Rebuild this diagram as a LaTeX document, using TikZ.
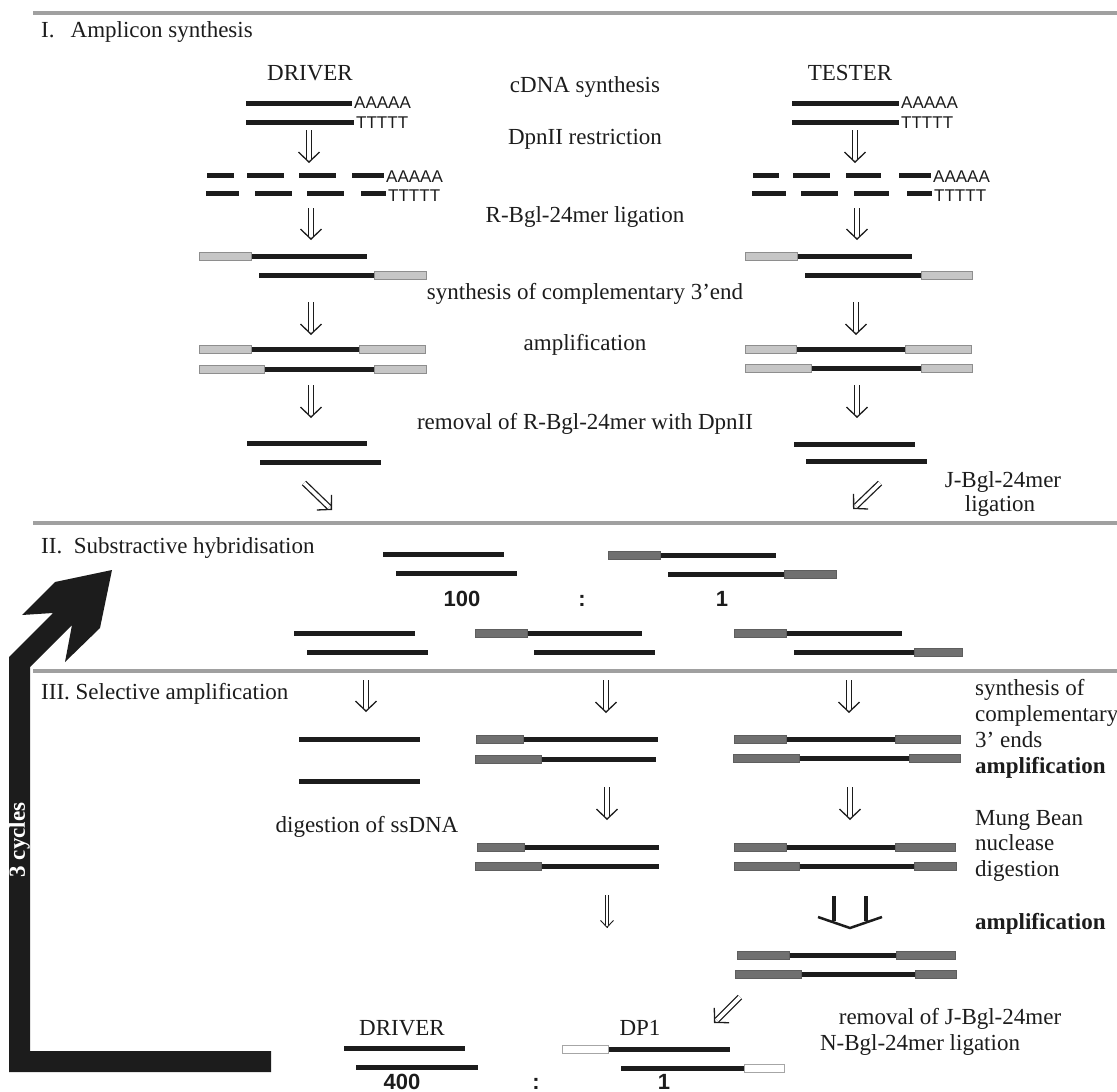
\documentclass[tikz,border=0pt]{standalone}
\usepackage{fontspec}
\setmainfont{Liberation Serif}
\newfontfamily\arialfont{Liberation Sans}
\usetikzlibrary{arrows.meta,calc}
\definecolor{ink}{HTML}{1C1C1C}
\definecolor{sepgray}{HTML}{A0A0A0}
\definecolor{lightad}{HTML}{C6C6C6}
\definecolor{lightadline}{HTML}{8E8E8E}
\definecolor{darkad}{HTML}{707070}
\definecolor{darkadline}{HTML}{5E5E5E}
\newcommand\dnaseg[3]{\draw[dna] (#2,#1) -- (#3,#1);}
\newcommand\ladapt[3]{\draw[lad] (#2,#1-4) rectangle (#3,#1+4);}
\newcommand\dadapt[3]{\draw[dad] (#2,#1-4) rectangle (#3,#1+4);}
\newcommand\wadapt[3]{\draw[wad] (#2,#1-4) rectangle (#3,#1+4);}
% double arrow from #2 to #3 with style family #1
\newcommand\dblarrow[3][darr]{\draw[#1] (#2) -- (#3); \draw[#1head] ($(#2)!0.97!(#3)$) -- (#3);}
\begin{document}
\begin{tikzpicture}[x=1pt,y=-1pt,
  sep/.style={draw=sepgray,line width=4pt},
  dna/.style={draw=ink,line width=5pt},
  lad/.style={fill=lightad,draw=lightadline,line width=0.8pt},
  dad/.style={fill=darkad,draw=darkadline,line width=0.8pt},
  wad/.style={fill=white,draw=gray!70,line width=0.8pt},
  lbl/.style={font=\fontsize{23}{26}\selectfont,inner sep=0pt,anchor=base,text=ink},
  lblw/.style={lbl,anchor=base west},
  blbl/.style={lblw,font=\bfseries\fontsize{23}{26}\selectfont},
  poly/.style={font=\arialfont\fontsize{17}{18}\selectfont,inner sep=0pt,anchor=base west,text=ink},
  num/.style={font=\arialfont\bfseries\fontsize{22}{24}\selectfont,inner sep=0pt,anchor=base,text=ink},
  darr/.style={draw=ink,double,double distance=3.6pt,line width=1.3pt,shorten >=4.2pt},
  darrhead/.style={draw=ink,line width=1.3pt,-{Straight Barb[length=10pt,width=21pt]}},
  tharr/.style={draw=ink,double,double distance=2.4pt,line width=0.9pt,shorten >=3pt},
  tharrhead/.style={draw=ink,line width=0.9pt,-{Straight Barb[length=7pt,width=13pt]}}
]
\useasboundingbox (0,0) rectangle (1117,1092);

% separators
\draw[sep] (33,13) -- (1117,13);
\draw[sep] (33,523) -- (1117,523);
\draw[sep] (33,671) -- (1117,671);

% headings
\node[lblw] (h1) at (41,37) {I.\hspace{0.7em}Amplicon synthesis};
\node[lblw] (h2) at (41,553) {II.\hspace{0.5em}Substractive hybridisation};
\node[lblw] (h3) at (41,699) {III. Selective amplification};

% ---------- Section I: driver ----------
\node[lbl] (drv) at (310,80) {DRIVER};
\dnaseg{103}{246}{352} \node[poly] (dA1) at (354,108) {AAAAA};
\dnaseg{122}{246}{354} \node[poly] (dT1) at (356,128) {TTTTT};
\dnaseg{175}{207}{234}\dnaseg{175}{247}{284}\dnaseg{175}{299}{336}\dnaseg{175}{352}{384}
\node[poly] (dA2) at (386,182) {AAAAA};
\dnaseg{193}{206}{239}\dnaseg{193}{255}{292}\dnaseg{193}{307}{344}\dnaseg{193}{361}{386}
\node[poly] (dT2) at (388,201) {TTTTT};
\dnaseg{256}{251}{367}\ladapt{256}{199}{251}
\dnaseg{275}{259}{374}\ladapt{275}{374}{426}
\dnaseg{349}{251}{359}\ladapt{349}{199}{251}\ladapt{349}{359}{425}
\dnaseg{369}{264}{374}\ladapt{369}{199}{264}\ladapt{369}{374}{426}
\dnaseg{443}{247}{367}
\dnaseg{462}{260}{381}

% ---------- Section I: tester ----------
\node[lbl] (tst) at (850,80) {TESTER};
\dnaseg{103}{792}{899} \node[poly] (tA1) at (901,108) {AAAAA};
\dnaseg{122}{792}{899} \node[poly] (tT1) at (901,128) {TTTTT};
\dnaseg{175}{753}{779}\dnaseg{175}{793}{830}\dnaseg{175}{846}{881}\dnaseg{175}{899}{931}
\node[poly] (tA2) at (933,182) {AAAAA};
\dnaseg{193}{752}{786}\dnaseg{193}{801}{838}\dnaseg{193}{854}{889}\dnaseg{193}{907}{932}
\node[poly] (tT2) at (934,201) {TTTTT};
\dnaseg{256}{797}{912}\ladapt{256}{745}{797}
\dnaseg{275}{805}{921}\ladapt{275}{921}{972}
\dnaseg{349}{796}{905}\ladapt{349}{745}{796}\ladapt{349}{905}{971}
\dnaseg{368}{811}{921}\ladapt{368}{745}{811}\ladapt{368}{921}{972}
\dnaseg{444}{794}{915}
\dnaseg{461}{806}{927}

% middle step labels
\node[lbl] (s1) at (585,92) {cDNA synthesis};
\node[lbl] (s2) at (585,144) {DpnII restriction};
\node[lbl] (s3) at (585,222) {R-Bgl-24mer ligation};
\node[lbl] (s4) at (585,299) {synthesis of complementary 3’end};
\node[lbl] (s5) at (585,350) {amplification};
\node[lbl] (s6) at (585,429) {removal of R-Bgl-24mer with DpnII};
\node[lbl] (jl1) at (1003,487) {J-Bgl-24mer};
\node[lbl] (jl2) at (1000,511) {ligation};

% section I arrows
\coordinate (a1s) at (309,130); \coordinate (a1e) at (309,163);
\coordinate (b1s) at (855,130); \coordinate (b1e) at (855,163);
\coordinate (a2s) at (311,208); \coordinate (a2e) at (311,240);
\coordinate (b2s) at (857,208); \coordinate (b2e) at (857,240);
\coordinate (a3s) at (311,302); \coordinate (a3e) at (311,335);
\coordinate (b3s) at (856,302); \coordinate (b3e) at (856,335);
\coordinate (a4s) at (311,385); \coordinate (a4e) at (311,418);
\coordinate (b4s) at (857,385); \coordinate (b4e) at (857,418);
\coordinate (a5s) at (304,483); \coordinate (a5e) at (332,510);
\coordinate (b5s) at (880,483); \coordinate (b5e) at (853,509);
\foreach \p in {a1,b1,a2,b2,a3,b3,a4,b4,a5,b5} {\dblarrow{\p s}{\p e}}

% ---------- Section II ----------
\dnaseg{554}{383}{504}\dnaseg{573}{396}{517}
\dnaseg{555}{660}{776}\dadapt{555}{608}{660}
\dnaseg{574}{668}{784}\dadapt{574}{784}{836}
\node[num] (n100) at (462,606) {100};
\node[num] (c1) at (582,606) {:};
\node[num] (n1a) at (722,606) {1};
\dnaseg{633}{294}{415}\dnaseg{652}{307}{428}
\dnaseg{633}{527}{642}\dadapt{633}{475}{527}
\dnaseg{652}{534}{655}
\dnaseg{633}{786}{902}\dadapt{633}{734}{786}
\dnaseg{652}{794}{914}\dadapt{652}{914}{962}

% ---------- Section III ----------
\coordinate (c1s) at (366,680); \coordinate (c1e) at (366,712);
\coordinate (c2s) at (606,680); \coordinate (c2e) at (606,713);
\coordinate (c3s) at (849,680); \coordinate (c3e) at (849,713);
\coordinate (c4s) at (607,787); \coordinate (c4e) at (607,820);
\coordinate (c5s) at (850,787); \coordinate (c5e) at (850,820);
\coordinate (c7s) at (740,997); \coordinate (c7e) at (714,1023);
\foreach \p in {c1,c2,c3,c4,c5,c7} {\dblarrow{\p s}{\p e}}
\coordinate (c6s) at (607,895); \coordinate (c6e) at (607,928);
\dblarrow[tharr]{c6s}{c6e}

\dnaseg{739}{299}{420}\dnaseg{781}{299}{420}
\node[lbl] (dig) at (367,832) {digestion of ssDNA};
\dnaseg{739}{523}{658}\dadapt{739}{476}{523}
\dnaseg{759}{541}{656}\dadapt{759}{475}{541}
\dnaseg{739}{786}{895}\dadapt{739}{734}{786}\dadapt{739}{895}{960}
\dnaseg{758}{799}{909}\dadapt{758}{733}{799}\dadapt{758}{909}{960}
\dnaseg{847}{524}{659}\dadapt{847}{477}{524}
\dnaseg{866}{541}{659}\dadapt{866}{475}{541}
\dnaseg{847}{786}{895}\dadapt{847}{734}{786}\dadapt{847}{895}{955}
\dnaseg{866}{799}{914}\dadapt{866}{734}{799}\dadapt{866}{914}{956}
\dnaseg{955}{789}{896}\dadapt{955}{737}{789}\dadapt{955}{896}{955}
\dnaseg{974}{801}{915}\dadapt{974}{735}{801}\dadapt{974}{915}{956}

% split amplification arrow
\draw[ink,line width=4pt] (834,896) -- (834,921) (866,896) -- (866,921);
\draw[ink,line width=2.5pt,line join=miter] (818,917) -- (850,928) -- (882,917);

% right labels
\node[lblw] (r1) at (975,695) {synthesis of};
\node[lblw] (r2) at (975,721) {complementary};
\node[lblw] (r3) at (975,747) {3’ ends};
\node[blbl] (r4) at (975,773) {amplification};
\node[lblw] (r5) at (975,825) {Mung Bean};
\node[lblw] (r6) at (975,850) {nuclease};
\node[lblw] (r7) at (975,876) {digestion};
\node[blbl] (r8) at (975,929) {amplification};
\node[lbl] (rm1) at (950,1024) {removal of J-Bgl-24mer};
\node[lbl] (rm2) at (920,1050) {N-Bgl-24mer ligation};

% bottom
\node[lbl] (drv2) at (402,1035) {DRIVER};
\dnaseg{1048}{344}{465}\dnaseg{1067}{356}{478}
\node[lbl] (dp1) at (640,1035) {DP1};
\dnaseg{1049}{608}{730}\wadapt{1049}{562}{608}
\dnaseg{1068}{621}{744}\wadapt{1068}{744}{784}
\node[num] (n400) at (402,1089) {400};
\node[num] (c2) at (536,1089) {:};
\node[num] (n1b) at (664,1089) {1};

% big cycle arrow
\fill[ink] (9,1072) -- (271,1072) -- (271,1051) -- (30,1051) -- (30,667) -- (72,625)
  -- (65,662) -- (100,628) -- (112,570) -- (55,582) -- (22,615) -- (53,613) -- (9,657) -- cycle;
\node[rotate=90,text=white,inner sep=0pt,font=\bfseries\fontsize{23}{26}\selectfont] (cyc) at (19.5,840) {3 cycles};
\end{tikzpicture}
\end{document}
